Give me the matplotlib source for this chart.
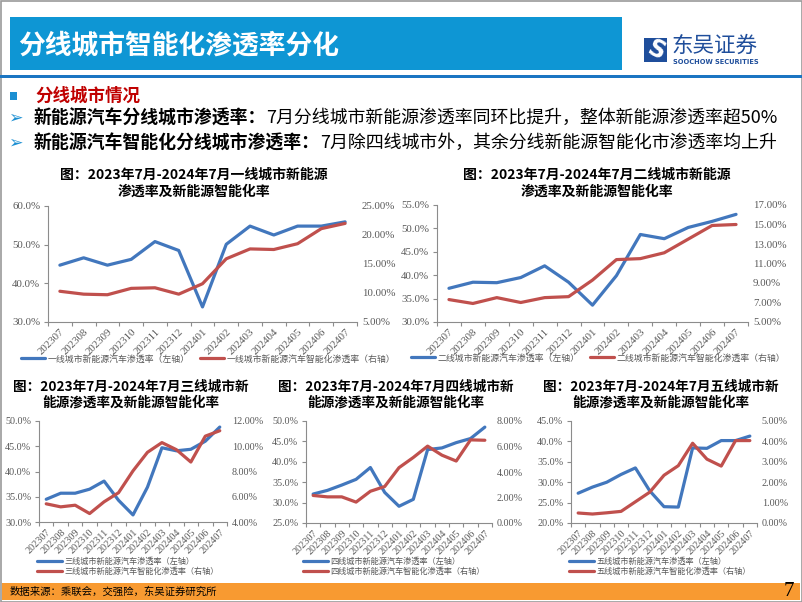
import matplotlib
matplotlib.use('Agg')
import matplotlib.pyplot as plt
from matplotlib.patches import Rectangle, FancyBboxPatch
from matplotlib.text import Annotation
from matplotlib.ticker import FuncFormatter, FixedLocator
import numpy as np

plt.rcParams['font.family'] = ['Noto Sans CJK SC', 'DejaVu Sans']

W, H = 802, 602

months = ['202307', '202308', '202309', '202310', '202311', '202312', '202401',
          '202402', '202403', '202404', '202405', '202406', '202407']

tier1_nev = [44.7, 46.6, 44.7, 46.2, 50.8, 48.5, 33.9, 50.1, 54.8, 52.5, 54.8, 54.8, 55.9]
tier1_smart = [10.3, 9.8, 9.7, 10.8, 10.9, 9.8, 11.6, 15.9, 17.6, 17.5, 18.5, 21.1, 22.0]
tier2_nev = [37.2, 38.5, 38.4, 39.5, 42.0, 38.5, 33.6, 39.9, 48.7, 47.8, 50.2, 51.5, 53.0]
tier2_smart = [7.3, 6.9, 7.5, 7.0, 7.5, 7.6, 9.3, 11.4, 11.5, 12.1, 13.5, 14.9, 15.0]
tier3_nev = [34.5, 35.7, 35.7, 36.5, 38.1, 34.3, 31.4, 36.9, 44.7, 44.1, 44.4, 46.0, 48.8]
tier3_smart = [5.44, 5.2, 5.33, 4.67, 5.6, 6.32, 8.05, 9.52, 10.29, 9.73, 8.75, 10.8, 11.23]
tier4_nev = [32.1, 33.0, 34.3, 35.7, 38.6, 32.5, 29.1, 30.8, 43.0, 43.4, 44.7, 45.7, 48.5]
tier4_smart = [2.16, 2.05, 2.05, 1.64, 2.49, 2.86, 4.34, 5.14, 6.03, 5.32, 4.86, 6.52, 6.49]
tier5_nev = [27.3, 28.8, 30.0, 31.9, 33.5, 27.9, 24.0, 23.9, 38.4, 38.3, 40.2, 40.2, 41.3]
tier5_smart = [0.49, 0.44, 0.50, 0.57, 1.04, 1.51, 2.34, 2.81, 3.91, 3.13, 2.79, 4.04, 4.04]

city_names = ['一线', '二线', '三线', '四线', '五线']

BLUE = '#4277BD'
RED = '#C0504D'
GRAY = '#595959'
SPINE = '#8C8C8C'
SERIF = 'Liberation Serif'

fig = plt.figure(figsize=(W / 100, H / 100), dpi=100)
fig.patch.set_facecolor('white')


def fx(x):
    return x / W


def fy(y):
    return 1 - y / H


def rect(x0, y0, x1, y1, **kw):
    fig.patches.append(Rectangle((fx(x0), fy(y1)), (x1 - x0) / W, (y1 - y0) / H,
                                 transform=fig.transFigure, **kw))


# ---------- slide frame / header ----------
rect(0.5, 0.5, 801.5, 601.5, fill=False, edgecolor='#9A9A9A', lw=1.2, zorder=0)
rect(10, 17, 622, 70, facecolor='#0E96D4', edgecolor='none', zorder=1)
fig.text(fx(18), fy(45), '分线城市智能化渗透率分化', color='white', fontsize=19.3,
         fontweight='bold', ha='left', va='center', zorder=2)
rect(0, 74.5, 802, 77.5, facecolor='#1B75C2', edgecolor='none', zorder=1)

# logo
fig.patches.append(FancyBboxPatch((fx(644), fy(62)), 23 / W, 24 / H,
                                  boxstyle='square,pad=0', transform=fig.transFigure,
                                  facecolor='#1F4E9B', edgecolor='none'))
fig.text(fx(655.5), fy(50), 'S', color='white', fontsize=17, fontweight='bold',
         ha='center', va='center', rotation=-25, family='DejaVu Sans')
fig.text(fx(671), fy(46), '东吴证券', color='#1F4E9B', fontsize=15.5,
         ha='left', va='center')
fig.text(fx(673), fy(62), 'SOOCHOW SECURITIES', color='#1F4E9B', fontsize=4.8,
         fontweight='bold', ha='left', va='center', family='DejaVu Sans')

# bullets
rect(10, 92, 17, 100, facecolor='#1B8FD2', edgecolor='none')
fig.text(fx(35), fy(96), '分线城市情况', color='#C00000', fontsize=12.6,
         fontweight='bold', ha='left', va='center')

body = [
    (118, '新能源汽车分线城市渗透率：', '7月分线城市新能源渗透率同环比提升，整体新能源渗透率超50%'),
    (143, '新能源汽车智能化分线城市渗透率：', '7月除四线城市外，其余分线新能源智能化市渗透率均上升'),
]
for yy, bold_part, normal_part in body:
    fig.text(fx(8), fy(yy), '➢', color='#1B8FD2', fontsize=12.5, ha='left',
             va='center', family='DejaVu Sans')
    t = fig.text(fx(34), fy(yy), bold_part, color='black', fontsize=12.9,
                 fontweight='bold', ha='left', va='center')
    fig.add_artist(Annotation(normal_part, xy=(1, 0.5), xycoords=t, ha='left',
                              va='center', fontsize=12.9, color='black'))

# footer
rect(2, 583, 800, 600, facecolor='#F89A31', edgecolor='none')
fig.text(fx(10), fy(592), '数据来源：乘联会，交强险，东吴证券研究所', color='black',
         fontsize=7.5, ha='left', va='center')
fig.text(fx(789), fy(591), '7', color='black', fontsize=15, ha='center',
         va='center', family=SERIF)


# ---------- charts ----------
def pct_fmt(dec):
    return FuncFormatter(lambda v, p: f'{v:.{dec}f}%')


def draw_chart(box, nev, smart, llim, lstep, rlim, rstep, title_lines, title_x,
               title_ys, city, leg_xy, two_col, fs_tick, fs_leg, fs_title):
    x0, y0, x1, y1 = box
    ax = fig.add_axes([fx(x0), fy(y1), (x1 - x0) / W, (y1 - y0) / H])
    ax2 = ax.twinx()
    x = np.arange(len(months))
    l1, = ax.plot(x, nev, color=BLUE, lw=2.3, solid_capstyle='round',
                  solid_joinstyle='round')
    l2, = ax2.plot(x, smart, color=RED, lw=2.3, solid_capstyle='round',
                   solid_joinstyle='round')
    ax.set_xlim(-0.5, len(months) - 0.5)
    ax.set_ylim(*llim)
    ax2.set_ylim(*rlim)
    ax.yaxis.set_major_locator(FixedLocator(np.arange(llim[0], llim[1] + 1e-6, lstep)))
    ax2.yaxis.set_major_locator(FixedLocator(np.arange(rlim[0], rlim[1] + 1e-6, rstep)))
    ax.yaxis.set_major_formatter(pct_fmt(1))
    ax2.yaxis.set_major_formatter(pct_fmt(2))
    ax.set_xticks(x)
    ax.set_xticklabels(months, rotation=45, ha='right', va='top',
                       rotation_mode='anchor', family=SERIF, fontsize=fs_tick,
                       color=GRAY)
    ax.xaxis.set_minor_locator(FixedLocator(np.arange(-0.5, len(months), 1)))
    ax.tick_params(axis='x', which='major', length=0, pad=4)
    ax.tick_params(axis='x', which='minor', length=3, color=SPINE, width=0.8)
    ax.tick_params(axis='y', length=3, color=SPINE, width=0.8, pad=2.5,
                   labelsize=fs_tick, labelcolor=GRAY)
    ax2.tick_params(axis='y', length=0, pad=3.5, labelsize=fs_tick, labelcolor=GRAY)
    for lab in ax.get_yticklabels() + ax2.get_yticklabels():
        lab.set_family(SERIF)
    for s in ['top', 'right']:
        ax.spines[s].set_visible(False)
    for s in ax2.spines.values():
        s.set_visible(False)
    for s in ['left', 'bottom']:
        ax.spines[s].set_color(SPINE)
        ax.spines[s].set_linewidth(0.8)
    ax.patch.set_alpha(0)
    # title
    for line, ty in zip(title_lines, title_ys):
        fig.text(fx(title_x), fy(ty), line, ha='center', va='center',
                 fontsize=fs_title, fontweight='bold', color='black')
    labels = [f'{city}城市新能源汽车渗透率（左轴）', f'{city}城市新能源汽车智能化渗透率（右轴）']
    leg = ax.legend([l1, l2], labels, loc='center left' if two_col else 'upper left',
                    bbox_to_anchor=(fx(leg_xy[0]), fy(leg_xy[1])),
                    bbox_transform=fig.transFigure, ncol=2 if two_col else 1,
                    frameon=False, borderpad=0, borderaxespad=0,
                    handlelength=2.7 if two_col else 3.0, handletextpad=0.3,
                    columnspacing=1.2, labelspacing=0.05,
                    prop={'size': fs_leg})
    for txt in leg.get_texts():
        txt.set_color(GRAY)


draw_chart((48, 206, 357, 322), tier1_nev, tier1_smart, (30, 60), 10, (5, 25), 5,
           ['图：2023年7月-2024年7月一线城市新能源', '渗透率及新能源智能化率'], 194,
           (175, 192), city_names[0], (21, 359), True, 7.8, 6.4, 10)
draw_chart((437, 205, 748, 322), tier2_nev, tier2_smart, (30, 55), 5, (5, 17), 2,
           ['图：2023年7月-2024年7月二线城市新能源', '渗透率及新能源智能化率'], 597,
           (175, 192), city_names[1], (411, 358), True, 7.8, 6.4, 10)
draw_chart((39, 421, 227, 522), tier3_nev, tier3_smart, (30, 50), 5, (4, 12), 2,
           ['图：2023年7月-2024年7月三线城市新', '能源渗透率及新能源智能化率'], 131,
           (387, 403), city_names[2], (37, 557), False, 7.3, 5.9, 9.8)
draw_chart((306, 421, 492, 523), tier4_nev, tier4_smart, (25, 50), 5, (0, 8), 2,
           ['图：2023年7月-2024年7月四线城市新', '能源渗透率及新能源智能化率'], 396,
           (387, 403), city_names[3], (303, 557), False, 7.3, 5.9, 9.8)
draw_chart((571, 421, 757, 523), tier5_nev, tier5_smart, (20, 45), 5, (0, 5), 1,
           ['图：2023年7月-2024年7月五线城市新', '能源渗透率及新能源智能化率'], 661,
           (387, 403), city_names[4], (569, 557), False, 7.3, 5.9, 9.8)

fig.savefig('out.png', dpi=100)
